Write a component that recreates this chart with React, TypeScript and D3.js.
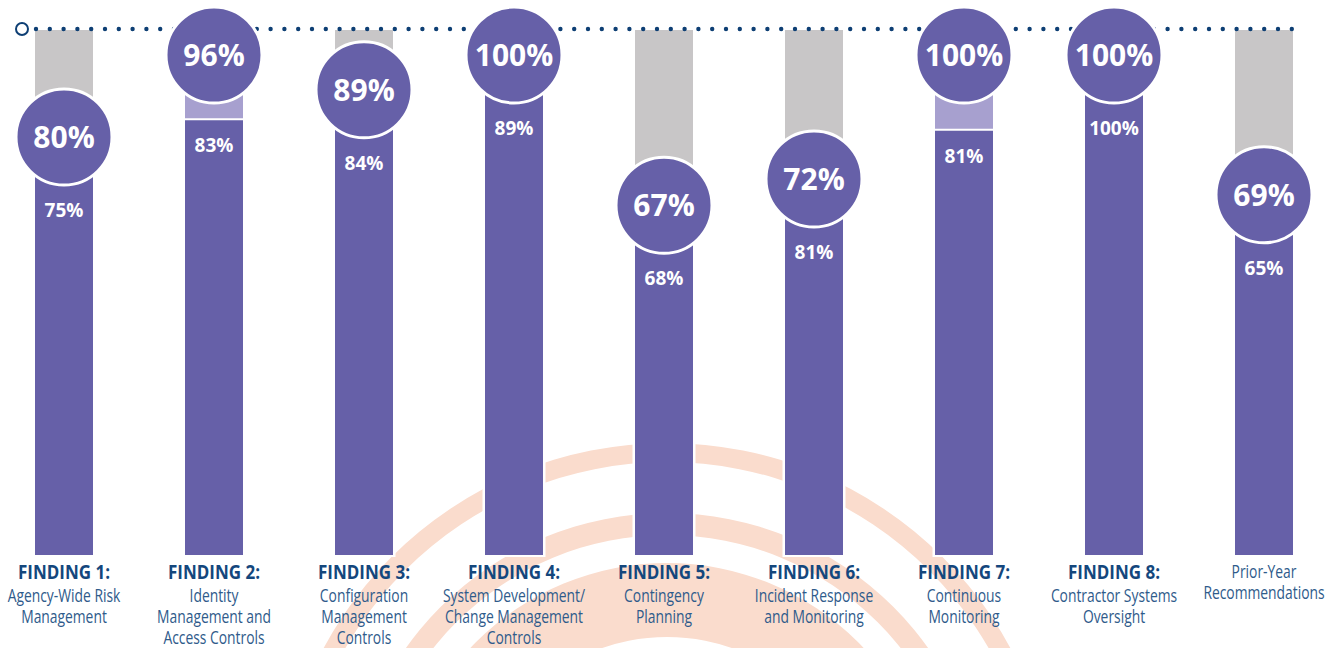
import React from "react";
import * as d3 from "d3";

// ---- data ----
const findingLabels = [
  "FINDING 1:", "FINDING 2:", "FINDING 3:", "FINDING 4:", "FINDING 5:",
  "FINDING 6:", "FINDING 7:", "FINDING 8:", "",
];
const findingNames = [
  ["Agency-Wide Risk", "Management"],
  ["Identity", "Management and", "Access Controls"],
  ["Configuration", "Management", "Controls"],
  ["System Development/", "Change Management", "Controls"],
  ["Contingency", "Planning"],
  ["Incident Response", "and Monitoring"],
  ["Continuous", "Monitoring"],
  ["Contractor Systems", "Oversight"],
  ["Prior-Year", "Recommendations"],
];
const currentPct = [80, 96, 89, 100, 67, 72, 100, 100, 69];
const priorPct = [75, 83, 84, 89, 68, 81, 81, 100, 65];

// ---- layout / style ----
const W = 1332;
const H = 648;
const PURPLE = "#6660a8";
const LIGHT_PURPLE = "#a7a0cf";
const GRAY = "#c8c6c7";
const NAVY = "#0e3f74";
const TITLE_BLUE = "#14477d";
const DESC_BLUE = "#2f5b8b";
const PEACH = "#fadccd";
const BAR_W = 58;
const R = 48;

export default function App() {
  const keys = findingNames.map((d) => d.join(" "));
  const x = d3.scalePoint<string>().domain(keys).range([64, 1264]);
  const y = d3.scaleLinear().domain([0, 100]).range([555, 30]);

  const ringCenter = [667, 833];
  const rings = [
    [371, 390],
    [298, 320],
    [196, 270],
  ];
  const arcGen = d3.arc<any>().startAngle(0).endAngle(2 * Math.PI);

  const font = "'Open Sans', 'Noto Sans', sans-serif";

  return (
    <svg
      width={W}
      height={H}
      viewBox={`0 0 ${W} ${H}`}
      style={{ position: "absolute", left: 0, top: 0, background: "#fff" }}
    >
      {/* background rings */}
      <g transform={`translate(${ringCenter[0]},${ringCenter[1]})`}>
        {rings.map(([ri, ro], i) => (
          <path key={i} d={arcGen({ innerRadius: ri, outerRadius: ro }) || ""} fill={PEACH} />
        ))}
      </g>

      {/* bars */}
      {keys.map((k, i) => {
        const cx = x(k)!;
        const x0 = cx - BAR_W / 2;
        const cur = currentPct[i];
        const pri = priorPct[i];
        const base = Math.min(cur, pri);
        return (
          <g key={k}>
            <rect x={x0 - 2.5} y={y(100)} width={BAR_W + 5} height={y(0) - y(100) + 2} fill="#fff" />
            <rect x={x0} y={y(100)} width={BAR_W} height={y(0) - y(100)} fill={GRAY} />
            {cur > pri && (
              <rect x={x0} y={y(cur)} width={BAR_W} height={y(pri) - y(cur)} fill={LIGHT_PURPLE} />
            )}
            <rect x={x0} y={y(base)} width={BAR_W} height={y(0) - y(base)} fill={PURPLE} />
            {cur > pri && (
              <line x1={x0} x2={x0 + BAR_W} y1={y(pri)} y2={y(pri)} stroke="#fff" strokeWidth={2} />
            )}
          </g>
        );
      })}

      {/* dotted top line */}
      <line
        x1={36}
        x2={1293}
        y1={29}
        y2={29}
        stroke={NAVY}
        strokeWidth={4.4}
        strokeLinecap="round"
        strokeDasharray="0 13.8"
      />
      <circle cx={22} cy={29} r={6} fill="#fff" stroke={NAVY} strokeWidth={2} />

      {/* circles and value labels */}
      {keys.map((k, i) => {
        const cx = x(k)!;
        const cur = currentPct[i];
        const pri = priorPct[i];
        const base = Math.min(cur, pri);
        const cy = Math.max(y(cur) + 2, y(100) + 25);
        const ly = Math.max(cy + 73, y(base) + 26);
        return (
          <g key={k}>
            <circle cx={cx} cy={cy} r={R} fill={PURPLE} stroke="#fff" strokeWidth={3} />
            <text
              x={cx}
              y={cy + 11}
              textAnchor="middle"
              fill="#fff"
              fontFamily={font}
              fontWeight={700}
              fontSize={30}
            >
              {`${cur}%`}
            </text>
            <text
              x={cx}
              y={ly + 7}
              textAnchor="middle"
              fill="#fff"
              fontFamily={font}
              fontWeight={700}
              fontSize={19}
            >
              {`${pri}%`}
            </text>
          </g>
        );
      })}

      {/* category labels */}
      {keys.map((k, i) => {
        const cx = x(k)!;
        const title = findingLabels[i];
        const start = title ? 602 : 578;
        return (
          <g key={k}>
            {title && (
              <g transform={`translate(${cx},0) scale(0.85,1)`}>
                <text
                  x={0}
                  y={579}
                  textAnchor="middle"
                  fill={TITLE_BLUE}
                  fontFamily={font}
                  fontWeight={700}
                  fontSize={20}
                >
                  {title}
                </text>
              </g>
            )}
            <g transform={`translate(${cx},0) scale(0.77,1)`}>
              {findingNames[i].map((line, j) => (
                <text
                  key={j}
                  x={0}
                  y={start + j * 21}
                  textAnchor="middle"
                  fill={DESC_BLUE}
                  fontFamily={font}
                  fontWeight={400}
                  fontSize={18}
                >
                  {line}
                </text>
              ))}
            </g>
          </g>
        );
      })}
    </svg>
  );
}
